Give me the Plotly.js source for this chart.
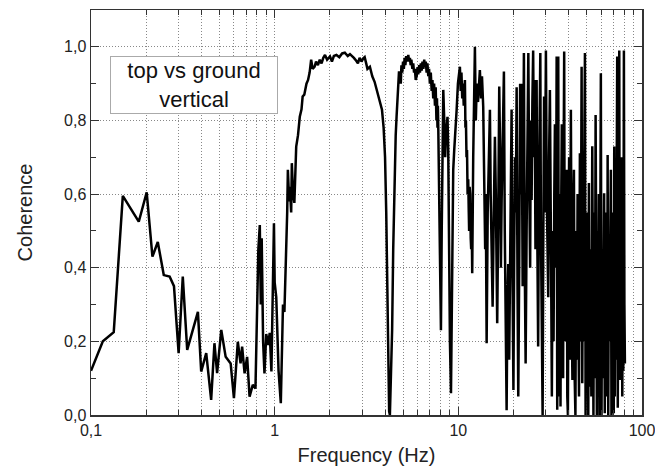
<!DOCTYPE html>
<html>
<head>
<meta charset="utf-8">
<script src="https://cdn.plot.ly/plotly-3.0.1.min.js"></script>
<style>html,body{margin:0;padding:0;background:#fff}#chart{width:655px;height:472px}</style>
</head>
<body>
<div id="chart"></div>
<script>
// Frequency (Hz)
const freq = [
0.100,0.116,0.133,0.149,0.182,0.201,0.216,0.231,0.249,0.268,0.283,0.300,0.316,0.334,0.382,0.398,0.424,0.451,0.470,0.486,
0.512,0.541,0.576,0.600,0.630,0.652,0.665,0.686,0.708,0.730,0.760,0.786,0.815,0.830,0.840,0.850,0.865,0.880,0.900,0.920,
0.940,0.960,0.991,1.00,1.02,1.05,1.08,1.10,1.11,1.13,1.15,1.17,1.18,1.20,1.21,1.23,1.24,1.26,1.28,1.30,
1.31,1.34,1.37,1.40,1.42,1.45,1.49,1.52,1.55,1.58,1.61,1.65,1.68,1.72,1.76,1.80,1.84,1.88,1.93,2.00,
2.05,2.10,2.17,2.25,2.33,2.41,2.50,2.57,2.63,2.70,2.78,2.84,2.90,2.97,3.03,3.09,3.15,3.20,3.30,3.40,
3.50,3.59,3.70,3.84,3.92,3.99,4.05,4.11,4.16,4.20,4.24,4.27,4.31,4.36,4.42,4.50,4.56,4.61,4.68,4.75,
4.81,4.86,4.90,4.95,5.00,5.05,5.10,5.15,5.20,5.27,5.34,5.40,5.45,5.50,5.55,5.62,5.68,5.74,5.80,5.86,
5.93,6.00,6.05,6.12,6.18,6.25,6.31,6.38,6.45,6.52,6.58,6.65,6.72,6.79,6.86,6.93,7.00,7.08,7.16,7.23,
7.30,7.38,7.46,7.53,7.60,7.65,7.70,7.74,7.78,7.86,7.95,8.04,8.12,8.20,8.28,8.38,8.48,8.56,8.65,8.73,
8.81,8.90,9.00,9.12,9.22,9.30,9.38,9.50,9.65,9.79,9.95,10.2,10.3,10.4,10.5,10.6,10.7,10.86,10.93,11.0,
11.08,11.15,11.23,11.32,11.4,11.45,11.52,11.6,11.68,11.75,11.82,11.9,12.05,12.15,12.31,12.45,12.6,12.8,13.1,13.3,
13.45,13.66,13.85,14.0,14.1,14.26,14.45,14.65,14.86,15.0,15.2,15.37,15.6,15.82,16.0,16.15,16.28,16.5,16.7,16.9,
17.05,17.21,17.45,17.71,17.9,18.1,18.32,18.5,18.7,18.92,19.2,19.5,19.7,19.95,20.15,20.35,20.55,20.77,21.0,21.2,
21.45,21.7,21.9,22.1,22.4,22.55,22.75,23.0,23.25,23.54,23.8,24.05,24.3,24.6,24.8,25.06,25.3,25.55,25.79,26.0,
26.3,26.68,26.9,27.2,27.47,27.7,27.95,28.16,28.4,28.6,28.77,29.0,29.3,29.6,29.98,30.3,30.86,31.2,31.52,32.0,
32.3,32.6,33.0,33.3,33.56,34.0,34.3,34.55,34.8,35.0,35.2,35.4,35.7,36.0,36.3,36.6,36.9,37.2,37.45,37.7,
38.0,38.3,38.6,38.9,39.2,39.5,39.8,40.1,40.4,41.0,41.4,41.8,42.2,42.6,43.0,43.4,43.8,44.2,44.6,45.0,
45.4,45.9,46.3,46.9,47.3,47.7,48.1,48.5,48.9,49.3,49.7,50.1,50.5,51.0,51.4,51.8,52.2,52.6,53.0,53.6,
54.0,54.4,54.9,55.4,55.9,56.3,56.8,57.2,57.7,58.2,58.7,59.2,59.7,60.2,60.7,61.2,61.7,62.2,62.7,63.2,
63.7,64.2,64.6,65.0,65.5,66.0,66.5,67.0,67.7,68.2,68.7,69.2,69.7,70.2,70.6,71.1,71.6,72.1,72.6,73.3,
73.8,74.3,75.2,75.7,76.2,76.7,77.2,77.6,78.1,78.6,79.1,79.7,80.2,80.7
];
// Coherence values
const coherence = [
0.12,0.20,0.225,0.595,0.525,0.605,0.43,0.47,0.38,0.376,0.35,0.168,0.376,0.177,0.28,0.118,0.168,0.041,0.195,0.114,
0.231,0.158,0.14,0.046,0.199,0.14,0.186,0.113,0.158,0.05,0.082,0.072,0.45,0.516,0.30,0.48,0.20,0.113,0.22,0.19,
0.223,0.118,0.521,0.36,0.32,0.12,0.032,0.25,0.30,0.28,0.394,0.55,0.666,0.58,0.62,0.55,0.684,0.60,0.576,0.70,
0.729,0.76,0.81,0.83,0.865,0.87,0.90,0.91,0.93,0.965,0.94,0.946,0.96,0.95,0.965,0.955,0.97,0.978,0.965,0.974,
0.96,0.975,0.978,0.972,0.982,0.984,0.975,0.98,0.976,0.97,0.962,0.955,0.97,0.96,0.968,0.972,0.955,0.94,0.946,0.92,
0.905,0.883,0.86,0.829,0.78,0.70,0.55,0.32,0.12,0.01,0.0,0.05,0.15,0.23,0.45,0.684,0.76,0.81,0.87,0.93,
0.93,0.90,0.95,0.93,0.96,0.94,0.97,0.95,0.975,0.96,0.978,0.96,0.97,0.95,0.965,0.94,0.955,0.93,0.94,0.91,
0.92,0.945,0.925,0.95,0.93,0.955,0.935,0.96,0.94,0.965,0.945,0.96,0.93,0.955,0.92,0.94,0.90,0.93,0.88,0.91,
0.86,0.90,0.84,0.89,0.80,0.86,0.78,0.84,0.775,0.60,0.40,0.23,0.50,0.80,0.883,0.80,0.70,0.76,0.79,0.81,
0.72,0.45,0.20,0.059,0.25,0.50,0.666,0.72,0.80,0.829,0.90,0.946,0.88,0.93,0.86,0.90,0.84,0.91,0.78,0.80,
0.70,0.72,0.60,0.64,0.55,0.50,0.62,0.60,0.48,0.45,0.55,0.385,0.70,0.85,1.0,0.80,0.90,0.85,0.937,0.86,
0.92,0.838,0.65,0.45,0.60,0.195,0.55,0.75,0.829,0.60,0.45,0.294,0.55,0.756,0.60,0.35,0.249,0.55,0.892,0.70,
0.40,0.584,0.75,0.933,0.50,0.25,0.013,0.30,0.41,0.15,0.60,0.83,0.40,0.068,0.45,0.70,0.55,0.89,0.35,0.05,
0.40,0.90,0.60,0.90,0.35,0.65,0.983,0.40,0.14,0.50,0.75,0.983,0.65,0.40,0.80,0.584,0.85,0.99,0.70,0.91,
0.45,0.91,0.50,0.186,0.60,0.85,0.983,0.50,0.20,0.0,0.0,0.45,0.865,0.55,0.99,0.60,0.32,0.70,0.883,0.40,
0.05,0.50,0.20,0.60,0.79,0.40,0.974,0.014,0.70,0.974,0.30,0.05,0.60,0.023,0.55,0.79,0.25,0.10,0.70,0.987,
0.20,0.376,0.60,0.666,0.05,0.0,0.45,0.70,0.15,0.829,0.30,0.095,0.55,0.666,0.10,0.0,0.50,0.15,0.60,0.30,
0.05,0.711,0.20,0.946,0.086,0.55,0.20,0.70,0.983,0.0,0.40,0.10,0.55,0.0,0.63,0.077,0.45,0.30,0.05,0.73,
0.20,0.0,0.55,0.10,0.815,0.276,0.0,0.50,0.15,0.60,0.0,0.40,0.928,0.0,0.45,0.10,0.55,0.602,0.005,0.45,
0.25,0.55,0.05,0.706,0.0,0.45,0.20,0.60,0.666,0.0,0.40,0.10,0.55,0.005,0.729,0.05,0.45,0.15,0.60,0.974,
0.02,0.60,0.99,0.095,0.40,0.10,0.50,0.70,0.05,0.40,0.12,0.99,0.30,0.14
];
const xTickVals = [0.1, 1, 10, 100];
const xTickText = ["0,1", "1", "10", "100"];
const xMinorVals = [0.2,0.3,0.4,0.5,0.6,0.7,0.8,0.9,2,3,4,5,6,7,8,9,20,30,40,50,60,70,80,90];
const yMajorVals = [0, 0.2, 0.4, 0.6, 0.8, 1.0];
const yMinorVals = [0.1,0.3,0.5,0.7,0.9];
const boxText = "top vs ground<br>vertical";

const FONT = "Liberation Sans, Arial, sans-serif";
const GRID = "#888";
const DASH = "1px,2px";
const trace = {
  x: freq, y: coherence, type: "scatter", mode: "lines",
  line: {color: "#000", width: 2.5}, hoverinfo: "skip"
};
const axisCommon = {
  showline: true, linecolor: "#333", linewidth: 1.5, mirror: "allticks",
  ticks: "inside", ticklen: 8, tickwidth: 1, tickcolor: "#333",
  showgrid: true, gridcolor: GRID, gridwidth: 1, griddash: DASH,
  zeroline: false, tickfont: {family: FONT, size: 16, color: "#222"}
};
const layout = {
  width: 655, height: 472,
  margin: {l: 91, r: 13, t: 10, b: 57},
  paper_bgcolor: "#fff", plot_bgcolor: "#fff",
  separators: ", ",
  showlegend: false,
  font: {family: FONT, color: "#222"},
  xaxis: Object.assign({}, axisCommon, {
    type: "log", range: [-1, 2], ticklabeloverflow: "allow",
    tickmode: "array", tickvals: xTickVals, ticktext: xTickText,
    minor: {tickmode: "array", tickvals: xMinorVals, ticks: "inside", ticklen: 5,
            tickcolor: "#333", showgrid: true, gridcolor: GRID, griddash: DASH, gridwidth: 1},
    title: {text: "Frequency (Hz)", font: {family: FONT, size: 20, color: "#222"}, standoff: 10}
  }),
  yaxis: Object.assign({}, axisCommon, {
    range: [0, 1.1], tickmode: "array", tickvals: yMajorVals, tickformat: ".1f",
    minor: {tickmode: "array", tickvals: yMinorVals, ticks: "inside", ticklen: 5,
            tickcolor: "#333", showgrid: false},
    title: {text: "Coherence", font: {family: FONT, size: 20, color: "#222"}, standoff: 26}
  }),
  annotations: [{
    xref: "paper", yref: "paper", x: 0.187, y: 0.816, xanchor: "center", yanchor: "middle",
    text: boxText, showarrow: false, align: "center",
    font: {family: FONT, size: 22, color: "#111"},
    bordercolor: "#aaa", borderwidth: 1, borderpad: 2, bgcolor: "#fff",
    width: 162, height: 52
  }]
};
Plotly.newPlot("chart", [trace], layout, {staticPlot: true, displayModeBar: false});
</script>
</body>
</html>
